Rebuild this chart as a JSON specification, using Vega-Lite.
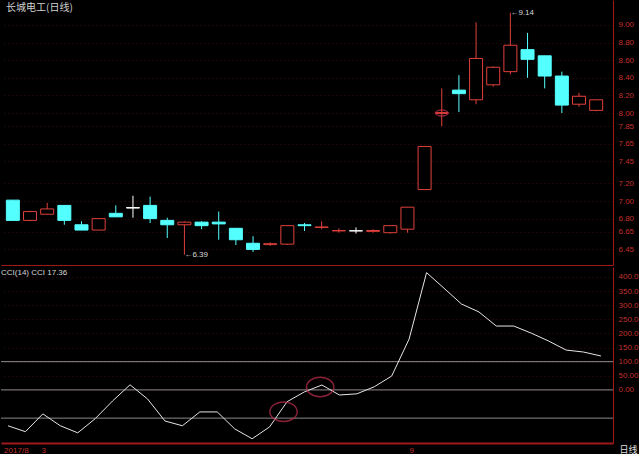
{
  "$schema": "https://vega.github.io/schema/vega-lite/v6.json",
  "background": "#000000",
  "padding": 0,
  "spacing": 2,
  "config": {
    "view": {"stroke": null},
    "font": "Liberation Sans",
    "axis": {
      "labelColor": "#c0302c",
      "labelFontSize": 8,
      "labelFont": "Liberation Sans",
      "labelOverlap": false,
      "labelBound": false,
      "domainColor": "#a01818",
      "ticks": false,
      "gridColor": "#3a0c0c",
      "gridDash": [1, 3],
      "labelPadding": 5
    }
  },
  "datasets": {
    "candles": [
      {"i": 1, "o": 7.01, "c": 6.78, "h": 7.01, "l": 6.78, "d": "down"},
      {"i": 2, "o": 6.78, "c": 6.88, "h": 6.89, "l": 6.77, "d": "up"},
      {"i": 3, "o": 6.85, "c": 6.91, "h": 6.98, "l": 6.85, "d": "up"},
      {"i": 4, "o": 6.95, "c": 6.78, "h": 6.95, "l": 6.73, "d": "down"},
      {"i": 5, "o": 6.73, "c": 6.67, "h": 6.77, "l": 6.67, "d": "down"},
      {"i": 6, "o": 6.67, "c": 6.80, "h": 6.80, "l": 6.67, "d": "up"},
      {"i": 7, "o": 6.86, "c": 6.82, "h": 6.95, "l": 6.82, "d": "down"},
      {"i": 8, "o": 6.925, "c": 6.92, "h": 7.06, "l": 6.81, "d": "flat"},
      {"i": 9, "o": 6.95, "c": 6.80, "h": 7.05, "l": 6.75, "d": "down"},
      {"i": 10, "o": 6.78, "c": 6.73, "h": 6.81, "l": 6.58, "d": "down"},
      {"i": 11, "o": 6.73, "c": 6.76, "h": 6.77, "l": 6.39, "d": "up"},
      {"i": 12, "o": 6.76, "c": 6.72, "h": 6.77, "l": 6.68, "d": "down"},
      {"i": 13, "o": 6.76, "c": 6.74, "h": 6.88, "l": 6.56, "d": "down"},
      {"i": 14, "o": 6.69, "c": 6.56, "h": 6.69, "l": 6.50, "d": "down"},
      {"i": 15, "o": 6.52, "c": 6.45, "h": 6.60, "l": 6.42, "d": "down"},
      {"i": 16, "o": 6.505, "c": 6.515, "h": 6.53, "l": 6.49, "d": "up"},
      {"i": 17, "o": 6.51, "c": 6.72, "h": 6.72, "l": 6.50, "d": "up"},
      {"i": 18, "o": 6.73, "c": 6.72, "h": 6.75, "l": 6.66, "d": "down"},
      {"i": 19, "o": 6.70, "c": 6.705, "h": 6.77, "l": 6.68, "d": "up"},
      {"i": 20, "o": 6.66, "c": 6.665, "h": 6.69, "l": 6.64, "d": "up"},
      {"i": 21, "o": 6.66, "c": 6.662, "h": 6.70, "l": 6.63, "d": "flat"},
      {"i": 22, "o": 6.655, "c": 6.665, "h": 6.68, "l": 6.64, "d": "up"},
      {"i": 23, "o": 6.64, "c": 6.72, "h": 6.72, "l": 6.63, "d": "up"},
      {"i": 24, "o": 6.68, "c": 6.93, "h": 6.93, "l": 6.64, "d": "up"},
      {"i": 25, "o": 7.13, "c": 7.62, "h": 7.62, "l": 7.13, "d": "up"},
      {"i": 26, "o": 7.995, "c": 8.005, "h": 8.28, "l": 7.85, "d": "up"},
      {"i": 27, "o": 8.26, "c": 8.22, "h": 8.43, "l": 8.01, "d": "down"},
      {"i": 28, "o": 8.15, "c": 8.62, "h": 9.03, "l": 8.10, "d": "up"},
      {"i": 29, "o": 8.32, "c": 8.52, "h": 8.53, "l": 8.30, "d": "up"},
      {"i": 30, "o": 8.47, "c": 8.77, "h": 9.14, "l": 8.44, "d": "up"},
      {"i": 31, "o": 8.72, "c": 8.61, "h": 8.91, "l": 8.40, "d": "down"},
      {"i": 32, "o": 8.65, "c": 8.42, "h": 8.65, "l": 8.28, "d": "down"},
      {"i": 33, "o": 8.42, "c": 8.09, "h": 8.47, "l": 8.00, "d": "down"},
      {"i": 34, "o": 8.10, "c": 8.19, "h": 8.23, "l": 8.07, "d": "up"},
      {"i": 35, "o": 8.03, "c": 8.15, "h": 8.15, "l": 8.02, "d": "up"}
    ],
    "cci": [
      {"i": 1, "v": -127}, {"i": 2, "v": -148}, {"i": 3, "v": -85}, {"i": 4, "v": -127},
      {"i": 5, "v": -152}, {"i": 6, "v": -102}, {"i": 7, "v": -39}, {"i": 8, "v": 18},
      {"i": 9, "v": -32}, {"i": 10, "v": -110}, {"i": 11, "v": -127}, {"i": 12, "v": -78},
      {"i": 13, "v": -78}, {"i": 14, "v": -138}, {"i": 15, "v": -173}, {"i": 16, "v": -131},
      {"i": 17, "v": -42}, {"i": 18, "v": -7}, {"i": 19, "v": 17.36}, {"i": 20, "v": -18},
      {"i": 21, "v": -14}, {"i": 22, "v": 11}, {"i": 23, "v": 49}, {"i": 24, "v": 180},
      {"i": 25, "v": 415}, {"i": 26, "v": 360}, {"i": 27, "v": 304}, {"i": 28, "v": 276},
      {"i": 29, "v": 226}, {"i": 30, "v": 226}, {"i": 31, "v": 201}, {"i": 32, "v": 173},
      {"i": 33, "v": 141}, {"i": 34, "v": 134}, {"i": 35, "v": 120}
    ]
  },
  "vconcat": [
    {
      "width": 612,
      "height": 265,
      "layer": [
        {
          "data": {"name": "candles"},
          "mark": {"type": "rule", "strokeWidth": 1},
          "encoding": {
            "x": {"field": "i", "type": "quantitative", "scale": {"domain": [0.6, 35.69], "nice": false, "zero": false},
                  "axis": {"labels": false, "grid": false, "domain": true, "domainColor": "#a01818", "title": null}},
            "y": {"field": "l", "type": "quantitative", "scale": {"domain": [6.273, 9.284], "nice": false, "zero": false},
                  "axis": {"orient": "right", "title": null, "tickCount": 30, "values": [6.45, 6.65, 6.8, 7.0, 7.2, 7.45, 7.65, 7.85, 8.0, 8.2, 8.4, 8.6, 8.8, 9.0], "format": ".2f", "grid": true, "domainColor": "#a01818"}},
            "y2": {"field": "h"},
            "color": {"field": "d", "type": "nominal", "scale": {"domain": ["up", "down", "flat"], "range": ["#e0403c", "#54ffff", "#ffffff"]}, "legend": null}
          }
        },
        {
          "data": {"name": "candles"},
          "mark": {"type": "bar", "size": 13, "strokeWidth": 1},
          "encoding": {
            "x": {"field": "i", "type": "quantitative"},
            "y": {"field": "o", "type": "quantitative"},
            "y2": {"field": "c"},
            "fill": {"field": "d", "type": "nominal", "scale": {"domain": ["up", "down", "flat"], "range": ["#000000", "#54ffff", "#ffffff"]}, "legend": null},
            "stroke": {"field": "d", "type": "nominal", "scale": {"domain": ["up", "down", "flat"], "range": ["#e0403c", "#54ffff", "#ffffff"]}, "legend": null}
          }
        },
        {
          "data": {"values": [{"i": 26, "p": 8.0}]},
          "mark": {"type": "point", "shape": "M -2 0 A 2 1 0 1 0 2 0 A 2 1 0 1 0 -2 0 Z", "size": 36, "filled": false, "stroke": "#c03050", "strokeWidth": 1.5},
          "encoding": {
            "x": {"field": "i", "type": "quantitative"},
            "y": {"field": "p", "type": "quantitative"}
          }
        },
        {
          "data": {"values": [{"i": 11, "p": 6.39, "label": "←6.39"}, {"i": 30, "p": 9.14, "label": "←9.14"}]},
          "mark": {"type": "text", "align": "left", "baseline": "middle", "dx": 0, "fontSize": 8, "color": "#d8d8d8", "font": "Liberation Sans"},
          "encoding": {
            "x": {"field": "i", "type": "quantitative"},
            "y": {"field": "p", "type": "quantitative"},
            "text": {"field": "label"}
          }
        },
        {
          "data": {"values": [{"i": 0.6, "p": 9.284, "label": "长城电工(日线)"}]},
          "mark": {"type": "text", "align": "left", "baseline": "top", "dy": 3, "fontSize": 10, "color": "#d0d0d0", "font": "Noto Sans CJK SC"},
          "encoding": {
            "x": {"field": "i", "type": "quantitative"},
            "y": {"field": "p", "type": "quantitative"},
            "text": {"field": "label"}
          }
        }
      ]
    },
    {
      "width": 612,
      "height": 176,
      "layer": [
        {
          "data": {"values": [{"lv": 100}, {"lv": 0}, {"lv": -100}]},
          "mark": {"type": "rule", "color": "#8a8a8a", "strokeWidth": 1},
          "encoding": {
            "y": {"field": "lv", "type": "quantitative", "scale": {"domain": [-188, 435], "nice": false, "zero": false},
                  "axis": {"orient": "right", "title": null, "tickCount": 30, "values": [0, 50, 100, 150, 200, 250, 300, 350, 400],
                           "labelExpr": "datum.value >= 100 ? format(datum.value, '.1f') : format(datum.value, '.2f')", "grid": true, "domainColor": "#a01818"}}
          }
        },
        {
          "data": {"name": "cci"},
          "mark": {"type": "line", "color": "#e6e6e6", "strokeWidth": 1},
          "encoding": {
            "x": {"field": "i", "type": "quantitative", "scale": {"domain": [0.6, 35.69], "nice": false, "zero": false},
                  "axis": {"values": [0.75, 2.9, 24], "tickCount": 30, "labelExpr": "datum.value < 1 ? '2017/8' : datum.value < 3 ? '3' : '9'", "labelAlign": "left", "labelPadding": 3, "grid": false, "labelFontSize": 8, "domainColor": "#a01818", "domainWidth": 2,
                           "title": "日线", "titleColor": "#e0e0e0", "titleFont": "Noto Sans CJK SC", "titleFontSize": 9, "titleFontWeight": "normal", "titleAnchor": "end", "titleX": 636, "titleY": 6, "titleBaseline": "middle", "titleAlign": "right"}},
            "y": {"field": "v", "type": "quantitative"}
          }
        },
        {
          "data": {"values": [{"i": 16.8, "v": -77}, {"i": 18.9, "v": 10}]},
          "mark": {"type": "point", "shape": "M -1.4 0 A 1.4 1 0 1 0 1.4 0 A 1.4 1 0 1 0 -1.4 0 Z", "size": 380, "filled": false, "stroke": "#c03050", "strokeWidth": 1.5},
          "encoding": {
            "x": {"field": "i", "type": "quantitative"},
            "y": {"field": "v", "type": "quantitative"}
          }
        },
        {
          "data": {"values": [{"i": 0.6, "v": 435, "label": "CCI(14) CCI 17.36"}]},
          "mark": {"type": "text", "align": "left", "baseline": "top", "dy": 2, "fontSize": 8, "color": "#d8d8d8", "font": "Liberation Sans"},
          "encoding": {
            "x": {"field": "i", "type": "quantitative"},
            "y": {"field": "v", "type": "quantitative"},
            "text": {"field": "label"}
          }
        }
      ]
    }
  ]
}
